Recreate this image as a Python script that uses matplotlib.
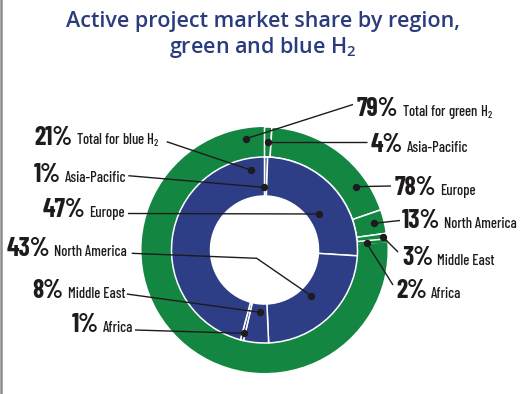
import matplotlib.pyplot as plt

W, H = 525, 394
GREEN = "#138641"
BLUE = "#2d3e86"
NAVY = "#2b3c7e"
INK = "#1e1b1c"

title_lines = ["Active project market share by region,", "green and blue H$_2$"]
regions = ["Asia-Pacific", "Europe", "North America", "Middle East", "Africa"]
green_share = [4, 78, 13, 3, 2]
blue_share = [1, 47, 43, 8, 1]
green_total = 79
blue_total = 21

# the regional breakdown only fills part of each ring in the original
green_span = 86.5 / 360
blue_span = 195 / 360

plt.rcParams["mathtext.default"] = "regular"
COND = ["Barlow Condensed", "DejaVu Sans"]


def ring_sizes(shares, span):
    parts = [s / 100 * span for s in shares]
    return parts + [1 - sum(parts)]


fig = plt.figure(figsize=(W / 100, H / 100), dpi=100)

# pie axes, pixel geometry of the rings
cx, cy, R = 264.5, 250, 123
ax = fig.add_axes([(cx - R) / W, (H - cy - R) / H, 2 * R / W, 2 * R / H])
edge = dict(edgecolor="white", linewidth=1.1)
outer, _ = ax.pie(ring_sizes(green_share, green_span), radius=1, startangle=90,
                  counterclock=False, colors=[GREEN],
                  wedgeprops=dict(width=30 / R, **edge))
inner, _ = ax.pie(ring_sizes(blue_share, blue_span), radius=93 / R, startangle=90,
                  counterclock=False, colors=[BLUE],
                  wedgeprops=dict(width=39 / R, **edge))
# africa + the rest of the green ring show no divider
for w in outer[4:]:
    w.set_edgecolor("none")
    w.set_zorder(0.5)
ax.set_xlim(-1, 1)
ax.set_ylim(-1, 1)
ax.axis("off")

# overlay in pixel coords for text and leaders
ov = fig.add_axes([0, 0, 1, 1])
ov.set_xlim(0, W)
ov.set_ylim(H, 0)
ov.axis("off")

ov.plot([1.2, 1.2], [0, H], color="#8c8c8c", lw=1.8)

for line, base in zip(title_lines, [27, 53]):
    ov.text(263, base, line, ha="center", va="baseline", color=NAVY,
            fontsize=15.5, fontfamily="Open Sans", fontweight="semibold")

renderer = fig.canvas.get_renderer()
inv = ov.transData.inverted()


def label(pct, name, x, base, side):
    kw_p = dict(fontsize=18.5, fontweight="bold", family=COND, color=INK, va="baseline")
    kw_n = dict(fontsize=10.5, fontweight="medium", family=COND, color=INK, va="baseline")
    if side == "right":
        t = ov.text(x, base, f"{pct}%", ha="left", **kw_p)
        bb = t.get_window_extent(renderer)
        x1 = inv.transform((bb.x1, bb.y0))[0]
        ov.text(x1 + 4, base, name, ha="left", **kw_n)
    else:
        t = ov.text(x, base, name, ha="right", **kw_n)
        bb = t.get_window_extent(renderer)
        x0 = inv.transform((bb.x0, bb.y0))[0]
        ov.text(x0 - 4, base, f"{pct}%", ha="right", **kw_p)


def leader(pts):
    xs = [p[0] for p in pts]
    ys = [p[1] for p in pts]
    ov.plot(xs, ys, color=INK, lw=1.0, solid_capstyle="butt")
    ov.plot(xs[-1], ys[-1], "o", color=INK, ms=4.3)


# green side (right)
label(green_total, "Total for green H$_2$", 357, 115.5, "right")
leader([(353, 104.5), (246, 138.7)])
right_pos = [(371, 151.5), (395, 195), (402, 228), (402, 265), (396, 297.5)]
right_lines = [
    [(367, 142), (267.7, 142)],
    [(391, 186), (356, 186.7)],
    [(400, 220.5), (374, 223.3)],
    [(398, 252), (383.3, 237.3)],
    [(393, 285), (366.7, 243.3)],
]
for name, pct, (x, b), pts in zip(regions, green_share, right_pos, right_lines):
    label(pct, name, x, b, "right")
    leader(pts)

# blue side (left)
label(blue_total, "Total for blue H$_2$", 160, 145, "left")
leader([(166.7, 141.7), (250.7, 170)])
left_pos = [(126, 181.5), (125, 216.5), (127, 256.5), (125, 298), (133, 331.5)]
left_lines = [
    [(128.3, 175.7), (263.5, 187.3)],
    [(128, 213.5), (319, 214)],
    [(131.7, 253.3), (256.7, 258.3), (311, 295.7)],
    [(126.7, 294), (260, 312.3)],
    [(135, 330), (244, 333.3)],
]
for name, pct, (x, b), pts in zip(regions, blue_share, left_pos, left_lines):
    label(pct, name, x, b, "left")
    leader(pts)

fig.savefig("out.png", dpi=100)
